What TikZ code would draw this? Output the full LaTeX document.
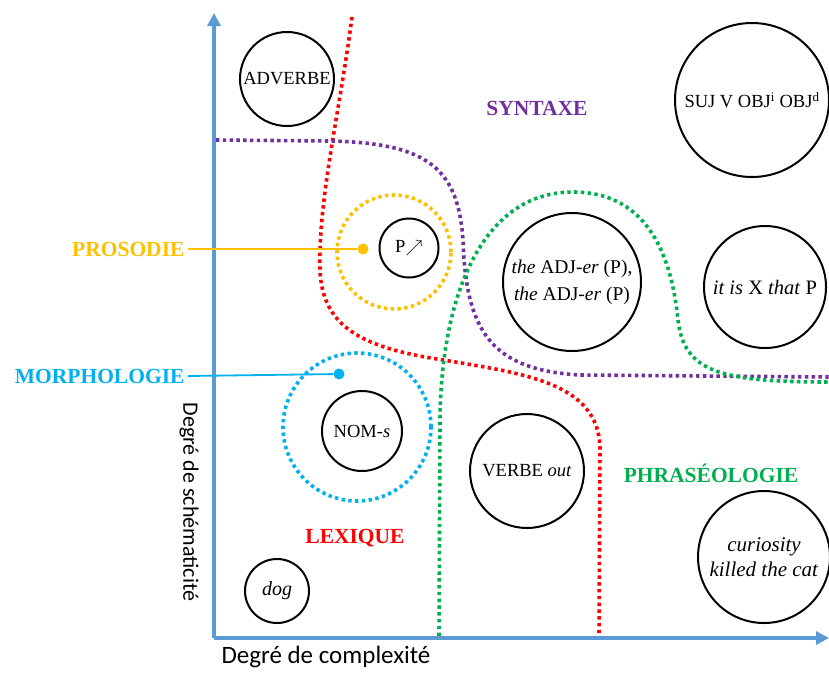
\documentclass[tikz,border=0pt]{standalone}
\usepackage{fontspec}
\setmainfont{Liberation Serif}
\newfontfamily\axisfont{Carlito}
\usetikzlibrary{arrows.meta}

\definecolor{axebleu}{RGB}{91,155,213}
\definecolor{synt}{RGB}{112,48,160}
\definecolor{phras}{RGB}{0,176,80}
\definecolor{pros}{RGB}{255,192,0}
\definecolor{morph}{RGB}{0,176,240}
\definecolor{lex}{RGB}{255,0,0}

\begin{document}
\begin{tikzpicture}[x=1pt,y=-1pt,
bulle/.style={
  draw,
  circle,
  line width=2pt,
  inner sep=0pt,
  align=center,
  font=\fontsize{18.5}{27}\selectfont
},
zone/.style={
  line width=3.6pt,
  dash pattern=on 3.4pt off 3.4pt
},
domaine/.style={
  font=\fontsize{21.5}{24}\selectfont\bfseries
},
axe/.style={
  draw=axebleu,
  line width=3.2pt,
  -{Triangle[width=13pt,length=13pt]}
},
point/.style={
  circle,
  fill,
  inner sep=0pt,
  minimum size=11pt
}
]
\useasboundingbox (0,0) rectangle (829,673);

% axes
\coordinate (o) at (214,638);
\coordinate (ytop) at (214,13);
\coordinate (xend) at (829,638);
\draw[axe] (o) -- (ytop);
\draw[axe] (o) -- (xend);
\node[font=\axisfont\fontsize{25}{28}\selectfont, anchor=north west] (xlab) at (218,643) {Degré de complexité};
\node[font=\axisfont\fontsize{22}{26}\selectfont, rotate=-90] (ylab) at (189,502) {Degré de schématicité};

% zones
\draw[zone,lex] (352,17) .. controls (340,110) and (318,200) .. (320,270)
  .. controls (322,325) and (360,345) .. (425,357)
  .. controls (520,373) and (600,380) .. (600,450) -- (599,634);
\draw[zone,synt] (216,140) -- (330,141) .. controls (430,143) and (458,170) .. (463,240)
  .. controls (466,330) and (490,370) .. (580,375) -- (829,377);
\draw[zone,phras] (439,636) -- (440,420) .. controls (441,300) and (480,192) .. (573,192)
  .. controls (650,192) and (672,260) .. (678,320)
  .. controls (684,372) and (720,382) .. (829,382);

\node[circle, zone, draw=pros, minimum size=114pt, inner sep=0pt] (cpros) at (394,252) {};
\node[circle, zone, draw=morph, minimum size=148pt, inner sep=0pt] (cmorph) at (357,427) {};

% labels
\node[domaine, text=synt] (syntaxe) at (537,108) {SYNTAXE};
\node[domaine, text=lex] (lexique) at (355,538) {LEXIQUE};
\node[domaine, text=phras] (phraseo) at (711,473) {PHRASÉOLOGIE};
\node[domaine, text=pros, anchor=east] (prosodie) at (188,249) {PROSODIE};
\node[domaine, text=morph, anchor=east] (morpho) at (188,376) {MORPHOLOGIE};
\node[point, pros] (ppros) at (363,249) {};
\node[point, morph] (pmorph) at (339,374) {};
\draw[pros, line width=1.8pt] (prosodie.east) -- (ppros);
\draw[morph, line width=1.8pt] (morpho.east) -- (pmorph);

% constructions
\node[bulle, minimum size=94pt] (adverbe) at (287,79) {ADVERBE};
\node[bulle, minimum size=154pt] (suj) at (752,100) {SUJ V OBJ\textsuperscript{i} OBJ\textsuperscript{d}};
\node[bulle, minimum size=59pt] (pmont) at (409,248) {P$\nearrow$};
\node[bulle, minimum size=138pt, font=\fontsize{19.5}{27}\selectfont] (adjer) at (572,282) {\textit{the} ADJ-\textit{er} (P),\\ \textit{the} ADJ-\textit{er} (P)};
\node[bulle, minimum size=122pt, font=\fontsize{20.5}{26}\selectfont] (itis) at (765,287) {\textit{it is} X \textit{that} P};
\node[bulle, minimum size=80pt] (noms) at (362,431) {NOM-\textit{s}};
\node[bulle, minimum size=114pt] (verbe) at (527,471) {VERBE \textit{out}};
\node[bulle, minimum size=132pt, font=\fontsize{21}{25}\selectfont] (curio) at (764,557) {\textit{curiosity}\\ \textit{killed the cat}};
\node[bulle, minimum size=64pt, font=\fontsize{20}{26}\selectfont] (dog) at (277,591) {\textit{dog}};
\end{tikzpicture}
\end{document}
